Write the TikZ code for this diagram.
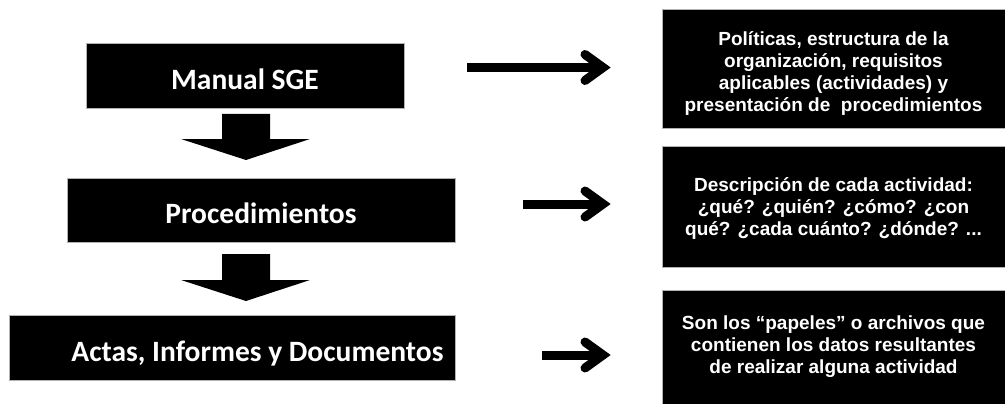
\documentclass[tikz,border=0pt]{standalone}
\usepackage{fontspec}
\setmainfont{Liberation Sans}
\newfontfamily\carlito{Carlito}
\usetikzlibrary{calc}
\begin{document}
\begin{tikzpicture}[x=1pt,y=-1pt,
  box/.style={draw=gray!60, line width=0.8pt, fill=black, inner sep=0pt, anchor=north west},
  lefttxt/.style={text=white, inner sep=0pt, anchor=base, font=\carlito\bfseries\fontsize{29.5}{35}\selectfont},
  righttxt/.style={text=white, inner sep=0pt, align=center, font=\bfseries\fontsize{19}{22}\selectfont},
  shaft/.style={line width=9pt},
  chev/.style={line width=9pt, line cap=round, line join=miter},
  blockarrow/.style={fill=black}]
\useasboundingbox (0,0) rectangle (1005,404);
% left boxes
\node[box, minimum width=318pt, minimum height=65pt] (manual) at (86,43) {};
\node[box, minimum width=388pt, minimum height=64pt] (proc) at (67,178) {};
\node[box, minimum width=446pt, minimum height=65pt] (actas) at (9,315) {};
\node[lefttxt] (manualt) at (245,89) {Manual SGE};
\node[lefttxt] (proct) at (261,223) {Procedimientos};
\node[lefttxt] (actast) at (257.5,361) {Actas, Informes y Documentos};
% right boxes
\node[box, minimum width=344pt, minimum height=119pt] (descA) at (662,9) {};
\node[box, minimum width=344pt, minimum height=121pt] (descB) at (662,146) {};
\node[box, minimum width=344pt, minimum height=116pt] (descC) at (662,290) {};
\node[righttxt] (descAt) at (833.5,74) {Políticas, estructura de la\\organización, requisitos\\aplicables (actividades) y\\presentación de~~procedimientos};
\node[righttxt] (descBt) at (833.5,209) {Descripción de cada actividad:\\¿qué? ¿quién? ¿cómo? ¿con\\qué? ¿cada cuánto? ¿dónde? ...};
\node[righttxt] (descCt) at (833.5,347) {Son los “papeles” o archivos que\\contienen los datos resultantes\\de realizar alguna actividad};
% block arrows down
\fill[blockarrow] (222,114) -- (270,114) -- (270,139) -- (310,139) -- (246,160) -- (181,139) -- (222,139) -- cycle;
\fill[blockarrow] (222,254) -- (270,254) -- (270,280) -- (310,280) -- (246,301) -- (181,280) -- (222,280) -- cycle;
% right arrows
\coordinate (a1s) at (467,67.5); \coordinate (a1e) at (603,67.5);
\coordinate (a2s) at (523,204);  \coordinate (a2e) at (603,204);
\coordinate (a3s) at (542,355);  \coordinate (a3e) at (603,355);
\foreach \s/\e in {a1s/a1e, a2s/a2e, a3s/a3e}{
  \draw[shaft] (\s) -- (\e);
  \draw[chev] ($(\e)+(-18,-13)$) -- (\e) -- ($(\e)+(-18,13)$);
}
\end{tikzpicture}
\end{document}
